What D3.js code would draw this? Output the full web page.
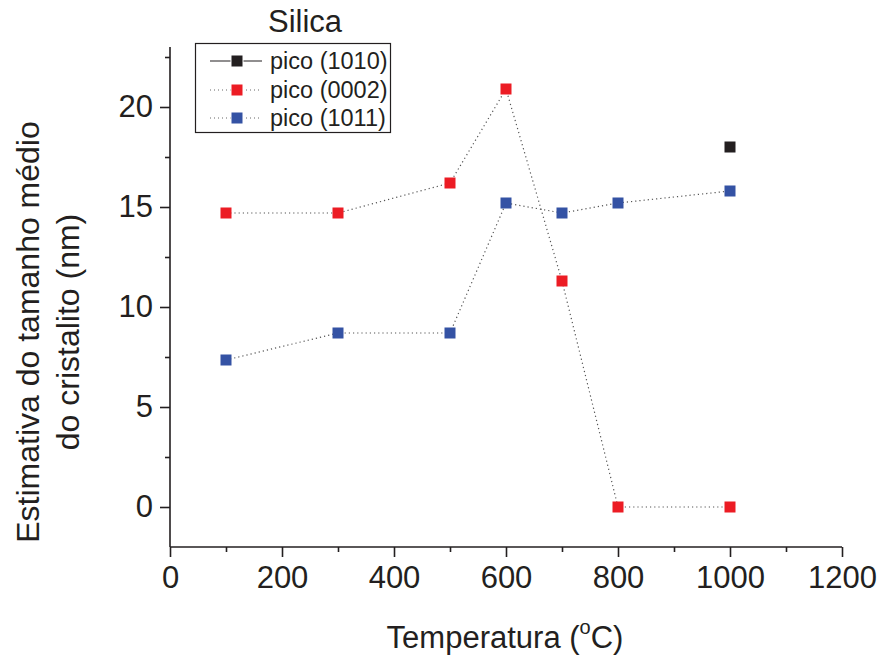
<!DOCTYPE html>
<html>
<head>
<meta charset="utf-8">
<script src="https://cdn.jsdelivr.net/npm/d3@7"></script>
<style>
  html, body { margin: 0; padding: 0; background: #fff; }
  svg { display: block; font-family: "Liberation Sans", Arial, sans-serif; }
</style>
</head>
<body>
<svg id="chart" width="881" height="657"></svg>
<script>
// ---- data ----
const temps1010 = [1000];
const pico1010 = [18.0];
const temps0002 = [100, 300, 500, 600, 700, 800, 1000];
const pico0002 = [14.7, 14.7, 16.2, 20.9, 11.3, 0, 0];
const temps1011 = [100, 300, 500, 600, 700, 800, 1000];
const pico1011 = [7.35, 8.7, 8.7, 15.2, 14.7, 15.2, 15.8];
const seriesNames = ["pico (1010)", "pico (0002)", "pico (1011)"];
const seriesColors = ["#231f20", "#ec1c24", "#3452a4"];
const xTicks = [0, 200, 400, 600, 800, 1000, 1200];
const yTicks = [0, 5, 10, 15, 20];

const svg = d3.select("#chart");
const x = d3.scaleLinear().domain([0, 1200]).range([170, 842]);
const y = d3.scaleLinear().domain([-2, 23]).range([547, 47]);

const axisColor = "#231f20";
const fs = 31;

// x axis
const gx = svg.append("g").attr("transform", "translate(0,547)");
gx.call(d3.axisBottom(x).tickValues(d3.range(100, 1200, 200)).tickSize(5).tickFormat(""));
gx.call(g => g.append("g").call(d3.axisBottom(x).tickValues(xTicks).tickSize(10).tickPadding(9)
      .tickFormat(d3.format("d"))));
gx.selectAll("path").attr("stroke", axisColor).attr("stroke-width", 1.6);
gx.selectAll("line").attr("stroke", axisColor).attr("stroke-width", 1.6);
gx.selectAll("text").attr("font-size", fs).attr("fill", axisColor)
  .attr("font-family", "Liberation Sans, Arial, sans-serif");

// y axis
const gy = svg.append("g").attr("transform", "translate(170,0)");
gy.call(d3.axisLeft(y).tickValues([2.5, 7.5, 12.5, 17.5, 22.5]).tickSize(5).tickFormat(""));
gy.call(g => g.append("g").call(d3.axisLeft(y).tickValues(yTicks).tickSize(10).tickPadding(7)
      .tickFormat(d3.format("d"))));
gy.selectAll("path").attr("stroke", axisColor).attr("stroke-width", 1.6);
gy.selectAll("line").attr("stroke", axisColor).attr("stroke-width", 1.6);
gy.selectAll("text").attr("font-size", fs).attr("fill", axisColor)
  .attr("font-family", "Liberation Sans, Arial, sans-serif");
gx.select("path.domain").attr("d", `M170,0H842`);
gy.select("path.domain").attr("d", `M0,547V47`);
gx.selectAll("g > g path.domain").remove();
gy.selectAll("g > g path.domain").remove();

// titles
svg.append("text").attr("x", 305).attr("y", 32).attr("text-anchor", "middle")
  .attr("font-size", fs).attr("fill", axisColor).text("Silica");

const xt = svg.append("text").attr("x", 505).attr("y", 648).attr("text-anchor", "middle")
  .attr("font-size", fs).attr("fill", axisColor);
xt.append("tspan").text("Temperatura (");
xt.append("tspan").attr("font-size", 20).attr("dy", -14).text("o");
xt.append("tspan").attr("dy", 14).text("C)");

const yt = svg.append("text").attr("transform", "translate(0,332) rotate(-90)")
  .attr("text-anchor", "middle").attr("font-size", 32).attr("fill", axisColor);
yt.append("tspan").attr("x", 0).attr("y", 39).text("Estimativa do tamanho médio");
yt.append("tspan").attr("x", 0).attr("y", 79).text("do cristalito (nm)");

// lines
const line = d3.line().x(d => x(d[0])).y(d => y(d[1]));
const data0002 = temps0002.map((t, i) => [t, pico0002[i]]);
const data1011 = temps1011.map((t, i) => [t, pico1011[i]]);
const data1010 = temps1010.map((t, i) => [t, pico1010[i]]);

[data0002, data1011].forEach(d => {
  svg.append("path").attr("d", line(d)).attr("fill", "none")
    .attr("stroke", "#555").attr("stroke-width", 1.2).attr("stroke-dasharray", "1.2,3");
});

const ms = 11;
function markers(d, color) {
  svg.append("g").selectAll("rect").data(d).join("rect")
    .attr("x", p => x(p[0]) - ms / 2).attr("y", p => y(p[1]) - ms / 2)
    .attr("width", ms).attr("height", ms).attr("fill", color);
}
markers(data0002, seriesColors[1]);
markers(data1011, seriesColors[2]);
markers(data1010, seriesColors[0]);

// legend
const lg = svg.append("g");
lg.append("rect").attr("x", 195.5).attr("y", 43.5).attr("width", 195).attr("height", 89)
  .attr("fill", "#fff").attr("stroke", axisColor).attr("stroke-width", 1.2);
const rowY = [61, 90, 118];
seriesNames.forEach((name, i) => {
  const ly = rowY[i];
  const l = lg.append("line").attr("x1", 210).attr("x2", 262).attr("y1", ly).attr("y2", ly)
    .attr("stroke", i === 0 ? axisColor : "#666").attr("stroke-width", i === 0 ? 1.2 : 1);
  if (i > 0) l.attr("stroke-dasharray", "1,3");
  lg.append("rect").attr("x", 237 - ms / 2 - 1).attr("y", ly - ms / 2 - 1)
    .attr("width", ms + 2).attr("height", ms + 2).attr("fill", "#fff");
  lg.append("rect").attr("x", 237 - ms / 2).attr("y", ly - ms / 2)
    .attr("width", ms).attr("height", ms).attr("fill", seriesColors[i]);
  lg.append("text").attr("x", 270).attr("y", ly + 8).attr("font-size", 23.5)
    .attr("fill", axisColor).text(name);
});
</script>
</body>
</html>
